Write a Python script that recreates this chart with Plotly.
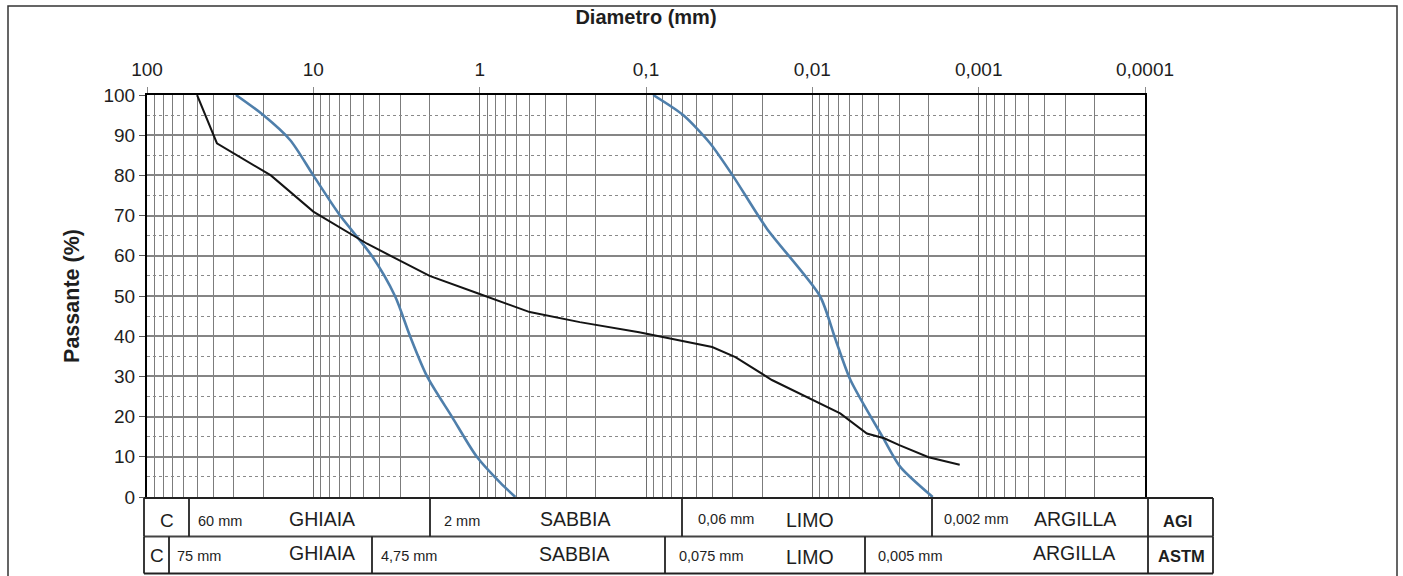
import plotly.graph_objects as go

# ---------------- data ----------------
# Sample A (black curve): grain diameter (mm) vs passing (%)
diam_a = [50, 38, 18, 10, 4.75, 2, 1, 0.5, 0.25, 0.11, 0.04, 0.029, 0.0175,
          0.009, 0.0068, 0.0047, 0.0037, 0.003, 0.002, 0.0013]
pass_a = [100, 88, 80, 71, 63, 55, 50.5, 46, 43.5, 41, 37.3, 34.8, 29.1,
          23.3, 20.8, 15.8, 14.6, 12.9, 9.9, 8]

# Envelope curves (blue): coarse limit and fine limit
diam_b = [29.2, 20, 13.8, 10, 6.9, 4.45, 3.23, 2.62, 2.07, 1.47, 1.04, 0.75, 0.61]
pass_b = [100, 95, 88.8, 80, 70, 60, 50, 40, 30, 20, 10, 3.5, 0]

diam_c = [0.0906, 0.0598, 0.0412, 0.0298, 0.0188, 0.009, 0.0073, 0.0059, 0.00374, 0.00296, 0.00189]
pass_c = [100, 95, 88, 79.7, 66.8, 50, 39.5, 29.1, 14.6, 7.5, 0]

x_tickvals = [100, 10, 1, 0.1, 0.01, 0.001, 0.0001]
x_ticktext = ['100', '10', '1', '0,1', '0,01', '0,001', '0,0001']
y_tickvals = list(range(0, 101, 10))

# classification table rows (label texts)
agi_row = ['C', '60 mm', 'GHIAIA', '2 mm', 'SABBIA', '0,06 mm', 'LIMO', '0,002 mm', 'ARGILLA', 'AGI']
astm_row = ['C', '75 mm', 'GHIAIA', '4,75 mm', 'SABBIA', '0,075 mm', 'LIMO', '0,005 mm', 'ARGILLA', 'ASTM']

# ---------------- layout helpers ----------------
W, H = 1403, 576
L, R, T, B = 147, 1145, 95, 497
FONT = 'Liberation Sans, Arial, sans-serif'


def px(xp):
    return (xp - L) / (R - L)


def py(yp):
    return (B - yp) / (B - T)


minor_x = [m * 10.0 ** k for k in range(-4, 2) for m in range(2, 10)]

fig = go.Figure()
fig.add_trace(go.Scatter(x=diam_b, y=pass_b, mode='lines',
                         line=dict(color='#4f7fab', width=2.6, shape='spline', smoothing=0.8),
                         showlegend=False, hoverinfo='x+y'))
fig.add_trace(go.Scatter(x=diam_c, y=pass_c, mode='lines',
                         line=dict(color='#4f7fab', width=2.6, shape='spline', smoothing=0.7),
                         showlegend=False, hoverinfo='x+y'))
fig.add_trace(go.Scatter(x=diam_a, y=pass_a, mode='lines', line=dict(color='#141414', width=2),
                         showlegend=False, hoverinfo='x+y'))

fig.update_layout(
    width=W, height=H,
    margin=dict(l=L, r=W - R, t=T, b=H - B, pad=0),
    paper_bgcolor='white', plot_bgcolor='white',
    font=dict(family=FONT, color='#1e1e1e'),
    showlegend=False,
)

fig.update_xaxes(
    type='log', range=[2, -4], side='top',
    tickmode='array', tickvals=x_tickvals, ticktext=x_ticktext,
    ticks='outside', ticklen=6, tickcolor='#8a8a8a', tickwidth=1,
    ticklabelstandoff=3,
    tickfont=dict(size=19, family=FONT, color='#1e1e1e'),
    showgrid=True, gridcolor='#6e6e6e', gridwidth=1,
    minor=dict(tickmode='array', tickvals=minor_x, showgrid=True, gridcolor='#7c7c7c', gridwidth=1, ticks=''),
    showline=True, linecolor='black', linewidth=2, mirror=True, zeroline=False,
    title=dict(text='<b>Diametro (mm)</b>', font=dict(size=20, family=FONT, color='#1e1e1e'), standoff=29),
)

fig.update_yaxes(
    range=[0, 100], tickmode='array', tickvals=y_tickvals,
    ticks='outside', ticklen=6, tickcolor='#555', tickwidth=1,
    tickfont=dict(size=19, family=FONT, color='#1e1e1e'),
    showgrid=True, gridcolor='#858585', gridwidth=1.5,
    minor=dict(dtick=5, showgrid=True, gridcolor='#8a8a8a', griddash='dot', gridwidth=1, ticks=''),
    showline=True, linecolor='black', linewidth=2, mirror=True, zeroline=False,
    title=dict(text='<b>Passante (%)</b>', font=dict(size=21.5, family=FONT, color='#1e1e1e'), standoff=18),
)

shapes = []
# outer frame
shapes.append(dict(type='rect', xref='paper', yref='paper', x0=px(8), x1=px(1397), y0=py(620), y1=py(6),
                   line=dict(color='#333', width=1.5), layer='below'))


def hline(y, x0, x1, w=1.8, c='#222'):
    shapes.append(dict(type='line', xref='paper', yref='paper', x0=px(x0), x1=px(x1), y0=py(y), y1=py(y),
                       line=dict(color=c, width=w)))


def vline(x, y0, y1, w=1.8, c='#222'):
    shapes.append(dict(type='line', xref='paper', yref='paper', x0=px(x), x1=px(x), y0=py(y0), y1=py(y1),
                       line=dict(color=c, width=w)))


r1t, r1b, r2b = 498, 536.5, 573.5
hline(r1t, 144, 1213)
hline(r1b, 144, 1213, c='#444')
hline(r2b, 144, 1213)
for xv in [144, 189, 430, 682, 932, 1148, 1213]:
    vline(xv, r1t, r1b)
for xv in [144, 169, 372, 665, 865, 1148, 1213]:
    vline(xv, r1b, r2b)

fig.update_layout(shapes=shapes)

# table text: (x pixel, anchor, size, y pixel, bold)
row1_pos = [(167, 'center', 19, 520, False), (196, 'left', 14.5, 521, False), (322, 'center', 19.5, 519, False),
            (442, 'left', 14.5, 521, False), (575, 'center', 19.5, 519, False), (696, 'left', 14.5, 519, False),
            (810, 'center', 19.5, 520, False), (942, 'left', 14.5, 519, False), (1075, 'center', 19.5, 519, False),
            (1177, 'center', 16.5, 521, True)]
row2_pos = [(157, 'center', 19, 555, False), (175, 'left', 14.5, 556, False), (322, 'center', 19.5, 553, False),
            (379, 'left', 14.5, 556, False), (574, 'center', 19.5, 554, False), (677, 'left', 14.5, 556, False),
            (810, 'center', 19.5, 557, False), (876, 'left', 14.5, 556, False), (1074, 'center', 19.5, 553, False),
            (1181, 'center', 16.5, 556, True)]

for labels, poss in [(agi_row, row1_pos), (astm_row, row2_pos)]:
    for txt, (xp, anc, sz, yp, bold) in zip(labels, poss):
        fig.add_annotation(text=('<b>%s</b>' % txt) if bold else txt, xref='paper', yref='paper',
                           x=px(xp), y=py(yp), xanchor=anc, yanchor='middle', showarrow=False,
                           font=dict(size=sz, family=FONT, color='#1e1e1e'))

fig.write_html('out.html')
